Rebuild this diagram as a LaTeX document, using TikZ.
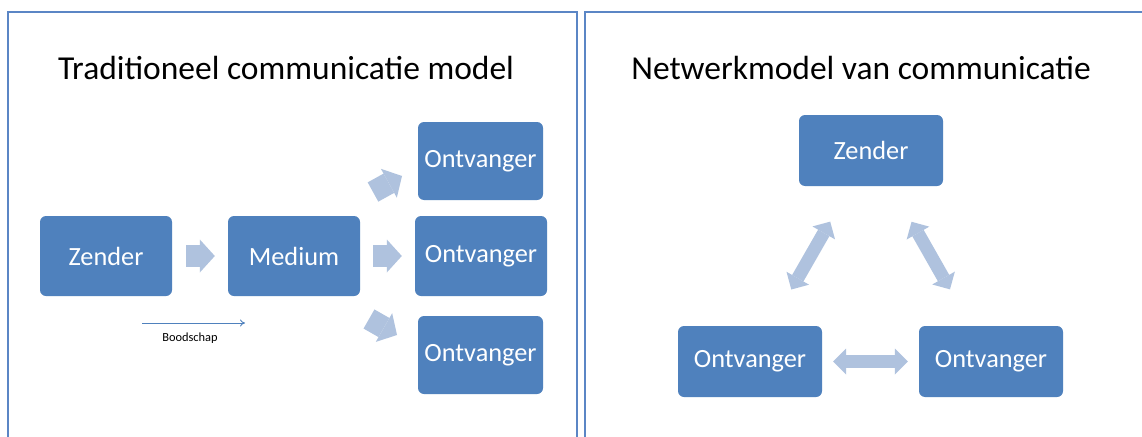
\documentclass[tikz,border=0pt]{standalone}
\usepackage{fontspec}
\setmainfont{Carlito}
\usetikzlibrary{arrows.meta}
\definecolor{boxblue}{RGB}{79,129,189}
\definecolor{arrowblue}{RGB}{175,194,222}
\definecolor{frameblue}{RGB}{91,134,197}
\begin{document}
\begin{tikzpicture}[x=1pt,y=-1pt,
  panel/.style={draw=frameblue, line width=1.6pt},
  title/.style={anchor=base, font=\fontsize{33.5}{40}\selectfont},
  box/.style={fill=boxblue, rounded corners=6pt, text=white, inner sep=0pt,
    font=\fontsize{26.3}{31}\selectfont},
  leftbox/.style={box, minimum width=132pt, minimum height=80pt},
  smallbox/.style={box, minimum width=125pt, minimum height=78pt},
  netbox/.style={box, minimum width=144pt, minimum height=71pt},
  blockarrow/.style={draw=arrowblue, line width=22pt,
    -{Triangle[length=15pt,width=33pt,line width=0pt]}},
  dblarrow/.style={draw=arrowblue, line width=13pt,
    {Triangle[length=13pt,width=26pt,line width=0pt]}-{Triangle[length=13pt,width=26pt,line width=0pt]}},
  msgarrow/.style={draw=boxblue, line width=0.9pt, -{To[length=5pt,width=7pt]}}
]
\useasboundingbox (0,0) rectangle (1142,436);
\fill[white] (0,0) rectangle (1142,436);

% panels
\draw[panel] (8,12) rectangle (577,450);
\draw[panel] (585,12) rectangle (1160,450);

% titles
\node[title] (tleft) at (286,79) {Traditioneel communicatie model};
\node[title] (tright) at (861,79) {Netwerkmodel van communicatie};

% traditional model
\node[leftbox] (zl) at (106,256) {Zender};
\node[leftbox] (med) at (294,256) {Medium};
\node[smallbox] (o1) at (480.5,161) {Ontvanger};
\node[leftbox] (o2) at (481,256) {Ontvanger};
\node[smallbox] (o3) at (480.5,355) {Ontvanger};

\draw[blockarrow, shorten <=14pt, shorten >=13pt] (zl.east) -- (med.west);
\draw[blockarrow, shorten <=13pt, shorten >=13pt] (med.east) -- (o2.west);
\coordinate (up0) at (373,192);
\coordinate (up1) at (402,176);
\coordinate (dn0) at (369,319);
\coordinate (dn1) at (397,335);
\draw[blockarrow] (up0) -- (up1);
\draw[blockarrow] (dn0) -- (dn1);

\coordinate (ms0) at (142,323);
\coordinate (ms1) at (245,323);
\draw[msgarrow] (ms0) -- (ms1);
\node[font=\fontsize{12.4}{15}\selectfont] (msg) at (190,338) {Boodschap};

% network model
\node[netbox] (zr) at (871,150.5) {Zender};
\node[netbox] (ol) at (750,361.5) {Ontvanger};
\node[netbox] (or) at (991,361.5) {Ontvanger};

\draw[dblarrow, shorten <=11pt, shorten >=11pt] (ol.east) -- (or.west);
\draw[dblarrow, shorten <=82pt, shorten >=83pt] (zr.center) -- (ol.center);
\draw[dblarrow, shorten <=82pt, shorten >=83pt] (zr.center) -- (or.center);
\end{tikzpicture}
\end{document}
